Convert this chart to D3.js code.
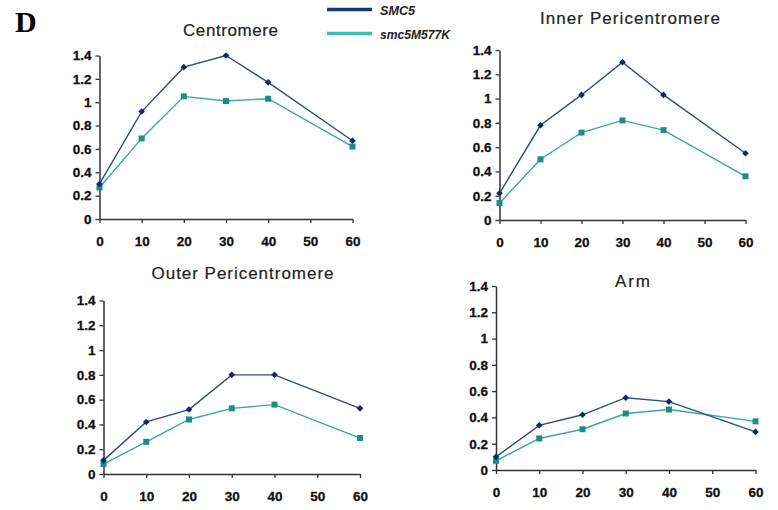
<!DOCTYPE html>
<html>
<head>
<meta charset="utf-8">
<script src="https://cdn.jsdelivr.net/npm/d3@7"></script>
<style>
  html, body { margin: 0; padding: 0; background: #fff; }
  svg { display: block; }
</style>
</head>
<body>
<svg id="chart" width="778" height="510"></svg>
<script>
// ---- data ----
const times = [0, 10, 20, 30, 40, 60];
const xTicks = [0, 10, 20, 30, 40, 50, 60];
const yTicks = [0, 0.2, 0.4, 0.6, 0.8, 1.0, 1.2, 1.4];
const yTickLabels = ["0", "0.2", "0.4", "0.6", "0.8", "1", "1.2", "1.4"];
const panelTitles = ["Centromere", "Inner Pericentromere", "Outer Pericentromere", "Arm"];
const seriesNames = ["SMC5", "smc5M577K"];
const smc5Centromere = [0.30, 0.92, 1.30, 1.40, 1.17, 0.67];
const mutCentromere = [0.27, 0.69, 1.05, 1.01, 1.03, 0.62];
const smc5InnerPeri = [0.22, 0.78, 1.03, 1.30, 1.03, 0.55];
const mutInnerPeri = [0.14, 0.50, 0.72, 0.82, 0.74, 0.36];
const smc5OuterPeri = [0.11, 0.42, 0.52, 0.80, 0.80, 0.53];
const mutOuterPeri = [0.08, 0.26, 0.44, 0.53, 0.56, 0.29];
const smc5Arm = [0.10, 0.34, 0.42, 0.55, 0.52, 0.29];
const mutArm = [0.07, 0.24, 0.31, 0.43, 0.46, 0.37];

// ---- layout (pixels) ----
const layouts = [
  { x0: 99.5, x1: 352.5, yb: 219, yt: 55.5, tx: 230.5, ty: 36, tw: 95 },
  { x0: 499.5, x1: 745.5, yb: 220, yt: 50, tx: 630, ty: 23.5, tw: 180 },
  { x0: 103.5, x1: 360, yb: 474, yt: 300.5, tx: 242.5, ty: 279, tw: 182 },
  { x0: 496, x1: 755.5, yb: 470, yt: 286, tx: 632.5, ty: 286.5, tw: 35 }
];
const smc5Series = [smc5Centromere, smc5InnerPeri, smc5OuterPeri, smc5Arm];
const mutSeries = [mutCentromere, mutInnerPeri, mutOuterPeri, mutArm];

const darkLine = "#2d4c86", darkMark = "#0e2a5e";
const tealLine = "#39a89f", tealMark = "#1d8c83";

const svg = d3.select("#chart");

// panel letter
svg.append("text").attr("x", 15).attr("y", 31.5)
  .attr("font-family", "Liberation Serif, Times New Roman, serif")
  .attr("font-weight", "bold").attr("font-size", 30).attr("fill", "#000").text("D");

// legend
const legendY = [9.5, 33.5];
const legendCols = ["#163a6e", "#3dbdb3"];
const legendW = [35, 70];
seriesNames.forEach((n, i) => {
  svg.append("line").attr("x1", 327).attr("x2", 372)
    .attr("y1", legendY[i]).attr("y2", legendY[i])
    .attr("stroke", legendCols[i]).attr("stroke-width", 3.5);
  svg.append("text").attr("x", 380).attr("y", legendY[i] + 5)
    .attr("font-family", "Liberation Sans Narrow, Liberation Sans, Arial, sans-serif")
    .attr("font-style", "italic").attr("font-weight", "bold")
    .attr("font-size", 13).attr("fill", "#222")
    .attr("textLength", legendW[i]).attr("lengthAdjust", "spacingAndGlyphs")
    .text(n);
});

layouts.forEach((L, p) => {
  const x = d3.scaleLinear().domain([0, 60]).range([L.x0, L.x1]);
  const y = d3.scaleLinear().domain([0, 1.4]).range([L.yb, L.yt]);
  const g = svg.append("g");

  // title
  g.append("text").attr("x", L.tx).attr("y", L.ty)
    .attr("text-anchor", "middle")
    .attr("font-family", "Liberation Sans, Arial, sans-serif")
    .attr("font-size", 17).attr("fill", "#222")
    .attr("stroke", "#222").attr("stroke-width", 0.2)
    .attr("textLength", L.tw).attr("lengthAdjust", "spacing")
    .text(panelTitles[p]);

  // axes
  const yAxis = d3.axisLeft(y).tickValues(yTicks)
    .tickFormat((d, i) => yTickLabels[i]).tickSize(4).tickSizeOuter(0).tickPadding(4);
  const xAxis = d3.axisBottom(x).tickValues(xTicks)
    .tickFormat(d3.format("d")).tickSize(4).tickSizeOuter(0).tickPadding(13);

  const ya = g.append("g").attr("transform", `translate(${L.x0},0)`).call(yAxis);
  const xa = g.append("g").attr("transform", `translate(0,${L.yb})`).call(xAxis);
  [ya, xa].forEach(a => {
    a.select(".domain").attr("stroke", "#333").attr("stroke-width", 1.5);
    a.selectAll(".tick line").attr("stroke", "#333").attr("stroke-width", 1.3);
    a.selectAll(".tick text")
      .attr("font-family", "Liberation Sans, Arial, sans-serif")
      .attr("font-weight", "bold").attr("font-size", 13.5).attr("fill", "#111")
      .attr("stroke", "#111").attr("stroke-width", 0.3);
  });

  const line = d3.line().x((d, i) => x(times[i])).y(d => y(d));

  // mutant series
  g.append("path").datum(mutSeries[p]).attr("d", line)
    .attr("fill", "none").attr("stroke", tealLine).attr("stroke-width", 1.4);
  // wild-type series
  g.append("path").datum(smc5Series[p]).attr("d", line)
    .attr("fill", "none").attr("stroke", darkLine).attr("stroke-width", 1.4);

  const sq = d3.symbol().type(d3.symbolSquare).size(36);
  g.selectAll(".mk-m").data(mutSeries[p]).enter().append("path")
    .attr("d", sq)
    .attr("transform", (d, i) => `translate(${x(times[i])},${y(d)})`)
    .attr("fill", tealMark);

  const dia = d3.symbol().type(d3.symbolSquare).size(22);
  g.selectAll(".mk-s").data(smc5Series[p]).enter().append("path")
    .attr("d", dia)
    .attr("transform", (d, i) => `translate(${x(times[i])},${y(d)}) rotate(45)`)
    .attr("fill", darkMark);
});
</script>
</body>
</html>
